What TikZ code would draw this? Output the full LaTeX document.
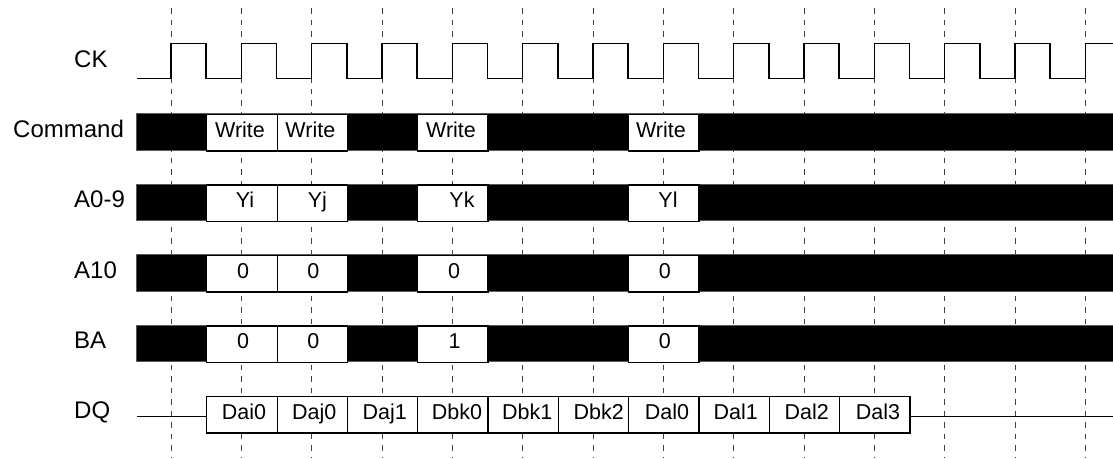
\documentclass[tikz,border=0pt]{standalone}
\usepackage{fontspec}
\setmainfont{Liberation Sans}
\begin{document}
\begin{tikzpicture}[x=1pt,y=1pt,
  lbl/.style={anchor=base west, inner sep=0pt, font=\fontsize{24}{28}\selectfont},
  cell/.style={draw=black, line width=1.3pt, fill=white, minimum width=70.33pt, minimum height=36.5pt, inner sep=0pt, anchor=north west},
  celltext/.style={anchor=base, inner sep=0pt, font=\fontsize{21.5}{26}\selectfont},
  bus/.style={fill=black, draw=black!65, line width=0.8pt},
  gridline/.style={black!75, line width=0.9pt, dash pattern=on 5.5pt off 6pt},
  wave/.style={black, line width=1.4pt}]
\useasboundingbox (0,0) rectangle (1113,-458);
\def\P{70.33}
% grid
\foreach \k in {0,...,13} \draw[gridline] ({171+\P*\k},-8) -- ({171+\P*\k},-458);
% clock
\draw[wave] (137,-78.7) foreach \k in {0,...,12} { -- ({171+\P*\k},-78.7) -- ({171+\P*\k},-43.7) -- ({206.17+\P*\k},-43.7) -- ({206.17+\P*\k},-78.7) } -- (1085.3,-78.7) -- (1085.3,-43.7) -- (1116,-43.7);
% bus bars
\foreach \i in {0,...,3} \draw[bus] (136.5,{-113.5-70.5*\i}) rectangle (1120,{-150-70.5*\i});
% labels
\node[lbl] (lck) at (74,-67) {CK};
\node[lbl] (lcmd) at (13,-137.3) {Command};
\node[lbl] (la09) at (74,-207.8) {A0-9};
\node[lbl] (la10) at (74,-278.3) {A10};
\node[lbl] (lba) at (74,-348.8) {BA};
\node[lbl] (ldq) at (74,-418.8) {DQ};
% cells: row, dash index, name, text, xshift
\foreach \r/\k/\n/\t/\s in {0/1/c1/Write/-2, 0/2/c2/Write/-2, 0/4/c3/Write/-2, 0/7/c4/Write/-3,
  1/1/y1/Yi/3, 1/2/y2/Yj/5, 1/4/y3/Yk/9, 1/7/y4/Yl/4,
  2/1/a1/0/1, 2/2/a2/0/1, 2/4/a3/0/1, 2/7/a4/0/1,
  3/1/b1/0/1, 3/2/b2/0/1, 3/4/b3/1/1.5, 3/7/b4/0/1,
  4/1/d1/Dai0/2, 4/2/d2/Daj0/2, 4/3/d3/Daj1/2, 4/4/d4/Dbk0/4, 4/5/d5/Dbk1/4,
  4/6/d6/Dbk2/5, 4/7/d7/Dal0/3, 4/8/d8/Dal1/1.5, 4/9/d9/Dal2/2, 4/10/d10/Dal3/3} {
  \node[cell] (\n) at ({206.17+\P*(\k-1)},{-113.8-70.5*\r}) {};
  \node[celltext] at ([xshift=\s pt,yshift=-4.7pt]\n.center) {\t};
}
% DQ idle lines
\coordinate (dqs) at (137,-416.7);
\coordinate (dqe) at (1116,-416.7);
\draw[line width=1.3pt] (dqs) -- (dqs -| d1.west);
\draw[line width=1.3pt] (dqe -| d10.east) -- (dqe);
\end{tikzpicture}
\end{document}
